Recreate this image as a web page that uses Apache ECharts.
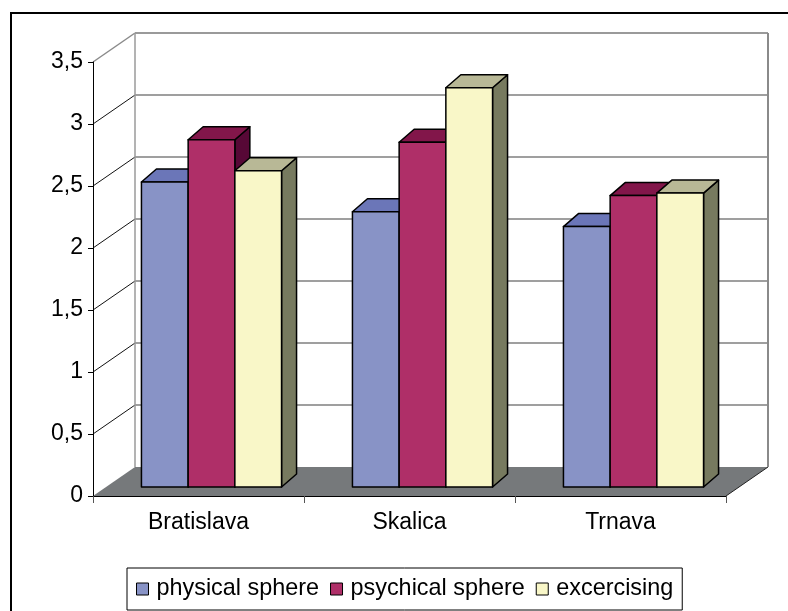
<!DOCTYPE html>
<html>
<head>
<meta charset="utf-8">
<script src="https://cdn.jsdelivr.net/npm/echarts@6/dist/echarts.min.js"></script>
<style>
  html, body { margin: 0; padding: 0; background: #fff; }
  #chart { width: 788px; height: 611px; }
</style>
</head>
<body>
<div id="chart"></div>
<script>
// Data
const categories = ['Bratislava', 'Skalica', 'Trnava'];
const seriesNames = ['physical sphere', 'psychical sphere', 'excercising'];
const physicalSphere = [2.46, 2.22, 2.10];
const psychicalSphere = [2.80, 2.78, 2.35];
const excercising = [2.55, 3.22, 2.37];
const valueTicks = [0, 0.5, 1, 1.5, 2, 2.5, 3, 3.5];

// Face colours of each box series: front, top, side
const palette = [
  { front: '#8893C6', top: '#6B76B8', side: '#4E5890' },
  { front: '#AF2F68', top: '#82164A', side: '#570836' },
  { front: '#F9F7C8', top: '#B8B896', side: '#777A5F' }
];

// Pseudo-3D geometry (pixel offsets of the depth direction)
const WALL_DX = 42, WALL_DY = -29;     // front plane -> back wall
const BAR_DX = 13, BAR_DY = -9;        // front plane -> bar front faces
const DEPTH_DX = 15, DEPTH_DY = -13;   // bar front face -> bar back face
const GROUP_RATIO = 0.664;             // share of a category band used by a cluster

const chart = echarts.init(document.getElementById('chart'), null, { renderer: 'canvas' });

function fmt(v) { return String(v).replace('.', ','); }

// Back wall, left wall and floor of the box
function renderWalls(params, api) {
  const cs = params.coordSys;
  const x0 = cs.x, x1 = cs.x + cs.width;
  const yBase = api.coord([0, 0])[1];
  const yTop = api.coord([0, valueTicks[valueTicks.length - 1]])[1];
  const children = [];
  // floor
  children.push({
    type: 'polygon',
    shape: { points: [[x0, yBase], [x1, yBase], [x1 + WALL_DX, yBase + WALL_DY], [x0 + WALL_DX, yBase + WALL_DY]] },
    style: { fill: '#76797B', stroke: null }
  });
  children.push({
    type: 'line',
    shape: { x1: x1, y1: yBase, x2: x1 + WALL_DX, y2: yBase + WALL_DY },
    style: { stroke: '#222', lineWidth: 1 }
  });
  // gridlines on back wall and left wall
  valueTicks.forEach(function (t, k) {
    const y = api.coord([0, t])[1];
    const isTop = k === valueTicks.length - 1;
    if (t > 0) {
      children.push({
        type: 'line',
        shape: { x1: x0 + WALL_DX, y1: y + WALL_DY, x2: x1 + WALL_DX, y2: y + WALL_DY },
        style: { stroke: isTop ? '#9A9A9A' : '#7F7F7F', lineWidth: isTop ? 2 : 1.3 }
      });
      children.push({
        type: 'line',
        shape: { x1: x0, y1: y, x2: x0 + WALL_DX, y2: y + WALL_DY },
        style: { stroke: isTop ? '#8A8A8A' : '#111', lineWidth: isTop ? 1.5 : 1 }
      });
    }
  });
  // wall verticals
  children.push({
    type: 'line',
    shape: { x1: x0 + WALL_DX, y1: yTop + WALL_DY, x2: x0 + WALL_DX, y2: yBase + WALL_DY },
    style: { stroke: '#9A9A9A', lineWidth: 1.5 }
  });
  children.push({
    type: 'line',
    shape: { x1: x1 + WALL_DX, y1: yTop + WALL_DY, x2: x1 + WALL_DX, y2: yBase + WALL_DY },
    style: { stroke: '#8A8A8A', lineWidth: 2 }
  });
  return { type: 'group', children: children };
}

function makeBoxRenderer(s) {
  const c = palette[s];
  return function (params, api) {
    const i = api.value(0), v = api.value(1);
    const base = api.coord([i, 0]);
    const top = api.coord([i, v]);
    const band = api.size([1, 0])[0];
    const groupW = band * GROUP_RATIO;
    const barW = groupW / seriesNames.length;
    const xl = base[0] - groupW / 2 + s * barW + BAR_DX;
    const xr = xl + barW;
    const yb = base[1] + BAR_DY;
    const yt = top[1] + BAR_DY;
    const stroke = { stroke: '#000', lineWidth: 1.5, lineJoin: 'round' };
    return {
      type: 'group',
      children: [
        {
          type: 'polygon',
          shape: { points: [[xr, yb], [xr + DEPTH_DX, yb + DEPTH_DY], [xr + DEPTH_DX, yt + DEPTH_DY], [xr, yt]] },
          style: Object.assign({ fill: c.side }, stroke)
        },
        {
          type: 'polygon',
          shape: { points: [[xl, yt], [xr, yt], [xr + DEPTH_DX, yt + DEPTH_DY], [xl + DEPTH_DX, yt + DEPTH_DY]] },
          style: Object.assign({ fill: c.top }, stroke)
        },
        {
          type: 'rect',
          shape: { x: xl, y: yt, width: barW, height: yb - yt },
          style: Object.assign({ fill: c.front }, stroke)
        }
      ]
    };
  };
}

const seriesValues = [physicalSphere, psychicalSphere, excercising];

const series = [{
  type: 'custom',
  name: 'walls',
  z: 0,
  clip: false,
  silent: true,
  renderItem: renderWalls,
  data: [[0, 0]]
}];
seriesValues.forEach(function (vals, s) {
  series.push({
    type: 'custom',
    name: seriesNames[s],
    z: 3,
    clip: false,
    itemStyle: { color: palette[s].front },
    renderItem: makeBoxRenderer(s),
    data: vals.map(function (v, i) { return [i, v]; })
  });
});

const textFont = 'Liberation Sans, Arial, sans-serif';

chart.setOption({
  animation: false,
  backgroundColor: '#fff',
  graphic: [{
    type: 'rect',
    shape: { x: 11, y: 13, width: 800, height: 700 },
    style: { fill: null, stroke: '#000', lineWidth: 2 },
    z: 10
  }],
  grid: { left: 93, right: 62, top: 62, bottom: 115, containLabel: false },
  xAxis: {
    type: 'category',
    data: categories,
    z: 2,
    axisLine: { show: true, lineStyle: { color: '#000', width: 1.2 } },
    axisTick: { show: true, interval: 0, length: 7, lineStyle: { color: '#555' } },
    axisLabel: { fontFamily: textFont, fontSize: 23, color: '#000', margin: 15 },
    splitLine: { show: false }
  },
  yAxis: {
    type: 'value',
    min: 0, max: 3.5, interval: 0.5,
    z: 2,
    axisLine: { show: true, lineStyle: { color: '#000', width: 1 } },
    axisTick: { show: true, length: 5, lineStyle: { color: '#000' } },
    axisLabel: { fontFamily: textFont, fontSize: 23, color: '#000', margin: 10, formatter: fmt },
    splitLine: { show: false }
  },
  legend: {
    left: 127, top: 568,
    orient: 'horizontal',
    padding: [9, 9, 9, 9],
    borderColor: '#000', borderWidth: 1,
    itemWidth: 12, itemHeight: 12, itemGap: 11,
    icon: 'rect',
    textStyle: { fontFamily: textFont, fontSize: 23.4, color: '#000', lineHeight: 24, padding: [0, 0, 0, 3] },
    data: seriesNames.map(function (n, s) {
      return { name: n, itemStyle: { color: palette[s].front, borderColor: '#000', borderWidth: 1 } };
    })
  },
  series: series
});
</script>
</body>
</html>
